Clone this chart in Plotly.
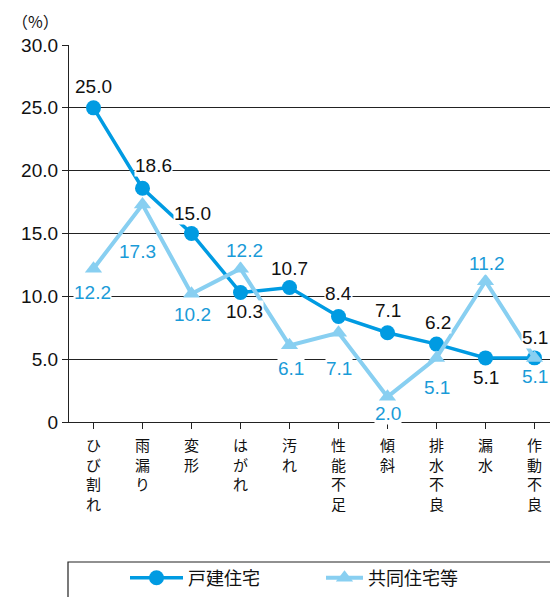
import plotly.graph_objects as go

categories = ["ひび割れ", "雨漏り", "変形", "はがれ", "汚れ", "性能不足", "傾斜", "排水不良", "漏水", "作動不良"]
detached = [25.0, 18.6, 15.0, 10.3, 10.7, 8.4, 7.1, 6.2, 5.1, 5.1]
collective = [12.2, 17.3, 10.2, 12.2, 6.1, 7.1, 2.0, 5.1, 11.2, 5.1]
series_names = ["戸建住宅", "共同住宅等"]
y_ticks = [0, 5, 10, 15, 20, 25, 30]
y_tick_labels = ["0", "5.0", "10.0", "15.0", "20.0", "25.0", "30.0"]

# label pixel offsets (dx, dy; dy positive = downward)
dark_offsets = [(0, -21), (11, -23), (1, -20), (4, 19), (0, -19), (0, -23), (0, -22), (1, -22), (0, 20), (0, -20)]
light_offsets = [(-1, 24), (-5, 47), (1, 21), (4, -18), (1, 23), (0, 36), (0, 17), (0, 30), (1, -18), (0, 19)]

DARK = "#009be2"
LIGHT = "#88cff1"
LABEL_BLUE = "#1a9bd8"
FONT = "Liberation Sans, Arial, Noto Sans CJK JP, sans-serif"
CJK = "Noto Sans CJK JP, sans-serif"

# page has 8px body margin; screen coords = figure coords + 8
W, H = 542, 589
SL, ST, SB, SR = 69, 45, 422, 550  # plot box in screen px
L, T = SL - 8, ST - 8
B = H - (SB - 8)
PW, PH = SR - SL, SB - ST
STEP = 49.0
x_max = -0.5 + PW / STEP


def px(xs):
    return (xs - SL) / PW


def py(ys):
    return (SB - ys) / PH


x_idx = list(range(len(categories)))
vertical_labels = ["<br>".join(list(c)) for c in categories]

fig = go.Figure()
fig.add_trace(go.Scatter(
    x=x_idx, y=detached, name=series_names[0], mode="lines+markers",
    line=dict(color=DARK, width=3.5),
    marker=dict(symbol="circle", size=15, color=DARK),
    legend="legend",
))
fig.add_trace(go.Scatter(
    x=x_idx, y=collective, name=series_names[1], mode="lines+markers",
    line=dict(color=LIGHT, width=4),
    marker=dict(symbol="triangle-up", size=15, color=LIGHT),
    legend="legend2",
))

annotations = []
for i, v in enumerate(detached):
    dx, dy = dark_offsets[i]
    annotations.append(dict(x=i, y=v, xref="x", yref="y", text=f"{v:.1f}", showarrow=False,
                            xshift=dx, yshift=-dy, bgcolor="white", borderpad=0,
                            font=dict(family=FONT, size=19, color="#111")))
for i, v in enumerate(collective):
    dx, dy = light_offsets[i]
    annotations.append(dict(x=i, y=v, xref="x", yref="y", text=f"{v:.1f}", showarrow=False,
                            xshift=dx, yshift=-dy, bgcolor="white", borderpad=0,
                            font=dict(family=FONT, size=19, color=LABEL_BLUE)))
annotations.append(dict(x=px(35), y=py(21), xref="paper", yref="paper", text="（%）",
                        showarrow=False, xanchor="center", yanchor="middle",
                        font=dict(family=CJK, size=16, color="#111")))

legend_common = dict(orientation="h", xanchor="left", yanchor="bottom",
                     font=dict(family=CJK, size=18, color="#111"),
                     bgcolor="rgba(0,0,0,0)", borderwidth=0)
legend_y = py(H + 8 - 0.5)

fig.update_layout(
    width=W, height=H,
    margin=dict(l=L, r=0, t=T, b=B),
    paper_bgcolor="white", plot_bgcolor="white",
    font=dict(family=FONT, color="#111"),
    showlegend=True,
    legend=dict(x=px(125), y=legend_y, itemwidth=53, **legend_common),
    legend2=dict(x=px(321), y=legend_y, itemwidth=37, **legend_common),
    annotations=annotations,
    shapes=[dict(type="rect", xref="paper", yref="paper",
                 x0=px(68), x1=px(620), y0=py(562), y1=py(660),
                 line=dict(color="#222", width=1.2), fillcolor="rgba(0,0,0,0)")],
    xaxis=dict(range=[-0.5, x_max], tickmode="array", tickvals=x_idx,
               ticktext=vertical_labels, ticks="outside", ticklen=6, tickcolor="#222",
               showline=True, linecolor="#222", linewidth=1.2, showgrid=False, zeroline=False,
               ticklabelstandoff=4,
               tickfont=dict(family=CJK, size=15, color="#111"), tickangle=0, fixedrange=True),
    yaxis=dict(range=[0, 30], tickmode="array", tickvals=y_ticks, ticktext=y_tick_labels,
               ticks="outside", ticklen=6, tickcolor="#222", showline=True, linecolor="#222",
               linewidth=1.2, showgrid=True, gridcolor="#222", gridwidth=1, zeroline=False,
               tickfont=dict(family=FONT, size=19, color="#111"), fixedrange=True),
)

fig.write_html("out.html")
